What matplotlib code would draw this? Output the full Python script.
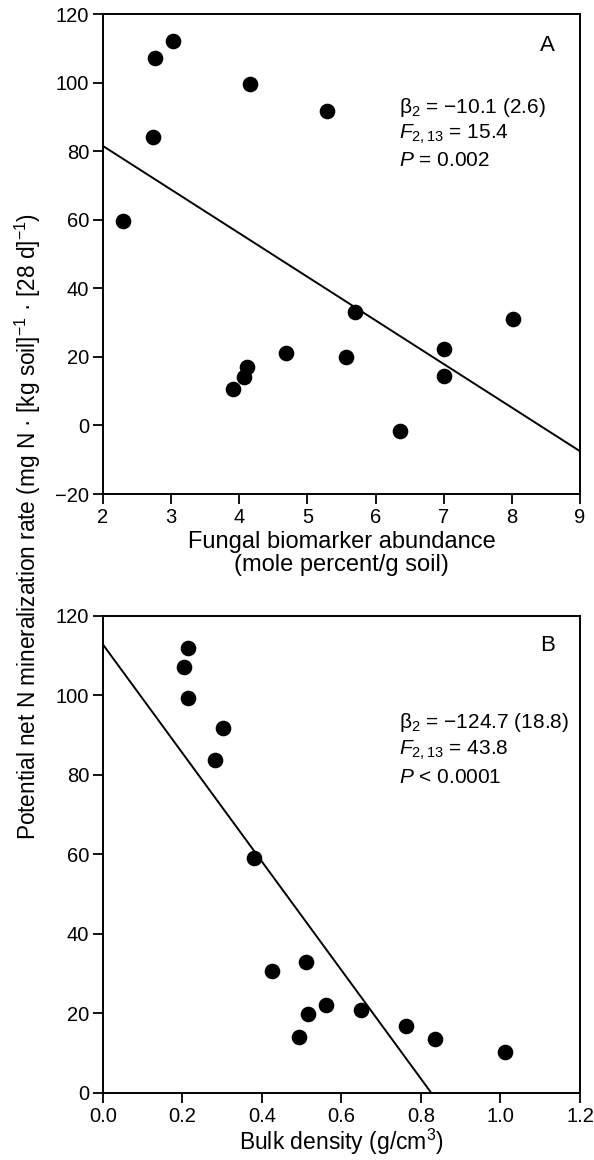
import numpy as np
import matplotlib
matplotlib.use("Agg")
from matplotlib import pyplot as plt

plt.rcParams['font.family'] = ['Liberation Sans', 'DejaVu Sans']
plt.rcParams['mathtext.fontset'] = 'custom'
plt.rcParams['mathtext.rm'] = 'Liberation Sans'
plt.rcParams['mathtext.it'] = 'Liberation Sans:italic'
plt.rcParams['mathtext.bf'] = 'Liberation Sans:bold'

# panel A: fungal biomarker vs N mineralization
fungal_x = [2.29, 2.74, 2.77, 3.02, 4.15, 5.29, 5.70, 4.69, 5.56, 4.12, 4.07, 3.91, 7.00, 7.01, 8.02, 6.36]
fungal_y = [59.5, 84.0, 107.3, 112.1, 99.6, 91.8, 33.0, 21.0, 20.0, 17.0, 14.0, 10.5, 22.3, 14.3, 31.0, -1.5]
fit_a_x = [2, 9]
fit_a_y = [81.5, -7.5]

# panel B: bulk density vs N mineralization
bulk_x = [0.213, 0.205, 0.215, 0.303, 0.281, 0.381, 0.425, 0.510, 0.560, 0.517, 0.494, 0.648, 0.763, 0.835, 1.012]
bulk_y = [112.0, 107.2, 99.4, 91.7, 83.7, 59.2, 30.8, 32.9, 22.1, 19.8, 14.0, 20.9, 16.8, 13.6, 10.3]
fit_b_x = [0.0, 0.826]
fit_b_y = [112.8, 0.0]

stats_a = [r'β$_2$ = −10.1 (2.6)', r'$F_{2,13}$ = 15.4', r'$P$ = 0.002']
stats_b = [r'β$_2$ = −124.7 (18.8)', r'$F_{2,13}$ = 43.8', r'$P$ < 0.0001']

fig = plt.figure(figsize=(5.94, 11.6), dpi=100)
axA = fig.add_axes([0.1734, 0.5741, 0.8030, 0.4138])
axB = fig.add_axes([0.1734, 0.0578, 0.8030, 0.4112])


def style(ax):
    for s in ax.spines.values():
        s.set_linewidth(1.4)
    ax.tick_params(direction='out', length=7, width=1.3, labelsize=14.5,
                   top=False, right=False, pad=3)


axA.scatter(fungal_x, fungal_y, s=105, color='black', zorder=3)
axA.plot(fit_a_x, fit_a_y, color='black', lw=1.4)
axA.set_xlim(2, 9)
axA.set_ylim(-20, 120)
axA.set_xticks(range(2, 10))
axA.set_yticks(range(-20, 121, 20))
axA.set_xlabel('Fungal biomarker abundance\n(mole percent/g soil)', fontsize=17, labelpad=3, linespacing=1.05)
style(axA)
axA.text(0.948, 0.935, 'A', transform=axA.transAxes, fontsize=16, ha='right', va='center')
for i, t in enumerate(stats_a):
    axA.text(0.62, 0.805 - i * 0.055, t, transform=axA.transAxes, fontsize=15, ha='left', va='center')

axB.scatter(bulk_x, bulk_y, s=105, color='black', zorder=3)
axB.plot(fit_b_x, fit_b_y, color='black', lw=1.4)
axB.set_xlim(0, 1.2)
axB.set_ylim(0, 120)
axB.set_xticks(np.arange(0, 1.21, 0.2))
axB.set_xticklabels(['0.0', '0.2', '0.4', '0.6', '0.8', '1.0', '1.2'])
axB.set_yticks(range(0, 121, 20))
axB.set_xlabel('Bulk density (g/cm$^3$)', fontsize=16.5, labelpad=1)
style(axB)
axB.text(0.948, 0.939, 'B', transform=axB.transAxes, fontsize=16, ha='right', va='center')
for i, t in enumerate(stats_b):
    axB.text(0.62, 0.776 - i * 0.057, t, transform=axB.transAxes, fontsize=15, ha='left', va='center')

fig.text(0.047, 0.546, 'Potential net N mineralization rate (mg N · [kg soil]$^{-1}$ · [28 d]$^{-1}$)',
         rotation=90, ha='center', va='center', fontsize=16.3)

fig.savefig('out.png', dpi=100)
